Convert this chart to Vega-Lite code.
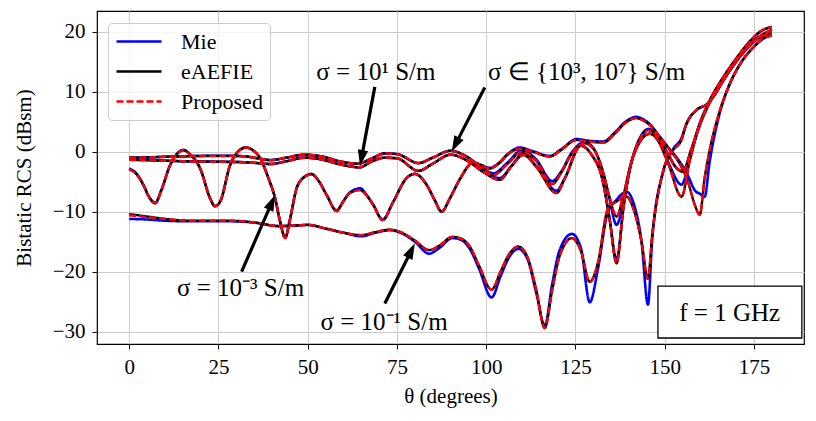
{
  "$schema": "https://vega.github.io/schema/vega-lite/v6.json",
  "width": 707,
  "height": 333,
  "autosize": {"type": "none"},
  "padding": {"left": 97, "top": 11, "right": 12, "bottom": 77},
  "background": "white",
  "config": {
    "font": "Liberation Serif",
    "view": {"stroke": "black", "strokeWidth": 1.2},
    "axis": {
      "labelFont": "Liberation Serif", "labelFontSize": 21, "labelColor": "black",
      "titleFont": "Liberation Serif", "titleFontSize": 21, "titleFontWeight": "normal", "titleColor": "black",
      "tickColor": "black", "tickSize": 5, "tickWidth": 1, "domain": false,
      "gridColor": "#cccccc", "gridWidth": 1, "labelPadding": 7
    },
    "legend": {
      "orient": "none", "legendX": 11, "legendY": 12,
      "symbolType": "M-1,0H3.5", "symbolSize": 400, "symbolStrokeWidth": 2.4,
      "labelFont": "Liberation Serif", "labelFontSize": 22, "labelColor": "black", "labelOffset": 43, "labelLimit": 0,
      "rowPadding": 7, "padding": 7,
      "strokeColor": "#cccccc", "fillColor": "rgba(255,255,255,0.8)", "cornerRadius": 4
    }
  },
  "datasets": {
    "rcs": [
      {"case": "A", "t": 0, "Mie": -11.2, "eAEFIE": -10.4, "Proposed": -10.6},
      {"case": "A", "t": 5, "Mie": -11.3, "eAEFIE": -10.8, "Proposed": -10.9},
      {"case": "A", "t": 10, "Mie": -11.5, "eAEFIE": -11.2, "Proposed": -11.2},
      {"case": "A", "t": 18, "Mie": -11.6, "eAEFIE": -11.5, "Proposed": -11.5},
      {"case": "A", "t": 28, "Mie": -11.6, "eAEFIE": -11.5, "Proposed": -11.5},
      {"case": "A", "t": 35, "Mie": -11.8, "eAEFIE": -11.8, "Proposed": -11.8},
      {"case": "A", "t": 42, "Mie": -12.4, "eAEFIE": -12.4, "Proposed": -12.4},
      {"case": "A", "t": 47, "Mie": -12.3, "eAEFIE": -12.3, "Proposed": -12.3},
      {"case": "A", "t": 50, "Mie": -12.2, "eAEFIE": -12.2, "Proposed": -12.2},
      {"case": "A", "t": 55, "Mie": -12.8, "eAEFIE": -12.8, "Proposed": -12.8},
      {"case": "A", "t": 60, "Mie": -13.5, "eAEFIE": -13.5, "Proposed": -13.5},
      {"case": "A", "t": 65, "Mie": -14.1, "eAEFIE": -13.9, "Proposed": -13.9},
      {"case": "A", "t": 69, "Mie": -13.5, "eAEFIE": -13.4, "Proposed": -13.4},
      {"case": "A", "t": 73, "Mie": -13.1, "eAEFIE": -13.0, "Proposed": -13.0},
      {"case": "A", "t": 76, "Mie": -13.5, "eAEFIE": -13.4, "Proposed": -13.4},
      {"case": "A", "t": 80, "Mie": -15.0, "eAEFIE": -14.8, "Proposed": -14.8},
      {"case": "A", "t": 84, "Mie": -17.0, "eAEFIE": -16.4, "Proposed": -16.4},
      {"case": "A", "t": 87, "Mie": -16.0, "eAEFIE": -15.6, "Proposed": -15.6},
      {"case": "A", "t": 90.5, "Mie": -14.4, "eAEFIE": -14.2, "Proposed": -14.2},
      {"case": "A", "t": 93, "Mie": -14.7, "eAEFIE": -14.5, "Proposed": -14.5},
      {"case": "A", "t": 95.4, "Mie": -16.2, "eAEFIE": -15.8, "Proposed": -15.8},
      {"case": "A", "t": 98, "Mie": -19.5, "eAEFIE": -19.0, "Proposed": -19.0},
      {"case": "A", "t": 101.5, "Mie": -24.3, "eAEFIE": -23.0, "Proposed": -23.0},
      {"case": "A", "t": 104, "Mie": -20.8, "eAEFIE": -20.0, "Proposed": -20.0},
      {"case": "A", "t": 106.5, "Mie": -17.5, "eAEFIE": -17.0, "Proposed": -17.0},
      {"case": "A", "t": 109, "Mie": -16.2, "eAEFIE": -15.8, "Proposed": -15.8},
      {"case": "A", "t": 111.5, "Mie": -17.8, "eAEFIE": -17.5, "Proposed": -17.5},
      {"case": "A", "t": 114, "Mie": -23.5, "eAEFIE": -23.0, "Proposed": -23.0},
      {"case": "A", "t": 116.4, "Mie": -29.0, "eAEFIE": -29.4, "Proposed": -29.4},
      {"case": "A", "t": 118.5, "Mie": -22.0, "eAEFIE": -23.0, "Proposed": -23.0},
      {"case": "A", "t": 120.5, "Mie": -16.5, "eAEFIE": -17.5, "Proposed": -17.5},
      {"case": "A", "t": 124, "Mie": -13.7, "eAEFIE": -14.4, "Proposed": -14.4},
      {"case": "A", "t": 126.5, "Mie": -16.0, "eAEFIE": -16.5, "Proposed": -16.5},
      {"case": "A", "t": 129, "Mie": -25.1, "eAEFIE": -21.7, "Proposed": -21.7},
      {"case": "A", "t": 131.3, "Mie": -19.5, "eAEFIE": -18.5, "Proposed": -18.5},
      {"case": "A", "t": 134, "Mie": -10.2, "eAEFIE": -9.7, "Proposed": -9.7},
      {"case": "A", "t": 136.5, "Mie": -8.0, "eAEFIE": -8.3, "Proposed": -8.3},
      {"case": "A", "t": 139.3, "Mie": -6.7, "eAEFIE": -7.5, "Proposed": -7.5},
      {"case": "A", "t": 141.5, "Mie": -9.0, "eAEFIE": -10.0, "Proposed": -10.0},
      {"case": "A", "t": 143.5, "Mie": -15.0, "eAEFIE": -15.0, "Proposed": -15.0},
      {"case": "A", "t": 145.3, "Mie": -25.5, "eAEFIE": -21.2, "Proposed": -21.2},
      {"case": "A", "t": 146.5, "Mie": -14.5, "eAEFIE": -13.9, "Proposed": -13.9},
      {"case": "A", "t": 149.5, "Mie": -3.5, "eAEFIE": -3.3, "Proposed": -3.3},
      {"case": "A", "t": 152.3, "Mie": 0.4, "eAEFIE": 0.2, "Proposed": 0.2},
      {"case": "A", "t": 154.7, "Mie": 2.3, "eAEFIE": 2.0, "Proposed": 2.0},
      {"case": "A", "t": 156, "Mie": 4.5, "eAEFIE": 4.5, "Proposed": 4.5},
      {"case": "A", "t": 159, "Mie": 7.0, "eAEFIE": 7.0, "Proposed": 7.0},
      {"case": "A", "t": 162, "Mie": 8.0, "eAEFIE": 8.0, "Proposed": 8.0},
      {"case": "A", "t": 164, "Mie": 9.5, "eAEFIE": 9.5, "Proposed": 9.5},
      {"case": "A", "t": 167, "Mie": 12.5, "eAEFIE": 12.5, "Proposed": 12.5},
      {"case": "A", "t": 170, "Mie": 15.1, "eAEFIE": 15.1, "Proposed": 15.1},
      {"case": "A", "t": 175, "Mie": 18.5, "eAEFIE": 18.5, "Proposed": 18.5},
      {"case": "A", "t": 180, "Mie": 20.3, "eAEFIE": 20.3, "Proposed": 20.3},

      {"case": "B", "t": 0, "Mie": -1.35, "eAEFIE": -1.35, "Proposed": -1.35},
      {"case": "B", "t": 5, "Mie": -1.4, "eAEFIE": -1.4, "Proposed": -1.4},
      {"case": "B", "t": 10, "Mie": -1.5, "eAEFIE": -1.5, "Proposed": -1.5},
      {"case": "B", "t": 16, "Mie": -1.6, "eAEFIE": -1.6, "Proposed": -1.6},
      {"case": "B", "t": 22, "Mie": -1.65, "eAEFIE": -1.65, "Proposed": -1.65},
      {"case": "B", "t": 28, "Mie": -1.7, "eAEFIE": -1.7, "Proposed": -1.7},
      {"case": "B", "t": 32, "Mie": -1.75, "eAEFIE": -1.75, "Proposed": -1.75},
      {"case": "B", "t": 36, "Mie": -1.9, "eAEFIE": -1.9, "Proposed": -1.9},
      {"case": "B", "t": 39.5, "Mie": -2.05, "eAEFIE": -2.05, "Proposed": -2.05},
      {"case": "B", "t": 44, "Mie": -1.6, "eAEFIE": -1.6, "Proposed": -1.6},
      {"case": "B", "t": 49, "Mie": -1.0, "eAEFIE": -1.0, "Proposed": -1.0},
      {"case": "B", "t": 54, "Mie": -1.3, "eAEFIE": -1.3, "Proposed": -1.3},
      {"case": "B", "t": 59, "Mie": -2.1, "eAEFIE": -2.1, "Proposed": -2.1},
      {"case": "B", "t": 64.5, "Mie": -2.6, "eAEFIE": -2.6, "Proposed": -2.6},
      {"case": "B", "t": 68, "Mie": -1.6, "eAEFIE": -1.6, "Proposed": -1.6},
      {"case": "B", "t": 71.5, "Mie": -1.0, "eAEFIE": -1.0, "Proposed": -1.0},
      {"case": "B", "t": 75, "Mie": -1.1, "eAEFIE": -1.1, "Proposed": -1.1},
      {"case": "B", "t": 81, "Mie": -3.2, "eAEFIE": -3.2, "Proposed": -3.2},
      {"case": "B", "t": 85, "Mie": -2.0, "eAEFIE": -2.0, "Proposed": -2.0},
      {"case": "B", "t": 90, "Mie": -0.5, "eAEFIE": -0.5, "Proposed": -0.5},
      {"case": "B", "t": 95, "Mie": -1.6, "eAEFIE": -1.6, "Proposed": -1.6},
      {"case": "B", "t": 99, "Mie": -3.3, "eAEFIE": -3.3, "Proposed": -3.3},
      {"case": "B", "t": 103.8, "Mie": -4.4, "eAEFIE": -4.7, "Proposed": -4.7},
      {"case": "B", "t": 107, "Mie": -2.4, "eAEFIE": -2.5, "Proposed": -2.5},
      {"case": "B", "t": 110.4, "Mie": -0.3, "eAEFIE": -0.55, "Proposed": -0.55},
      {"case": "B", "t": 114, "Mie": -2.4, "eAEFIE": -2.5, "Proposed": -2.5},
      {"case": "B", "t": 119.7, "Mie": -6.5, "eAEFIE": -6.9, "Proposed": -6.9},
      {"case": "B", "t": 122, "Mie": -4.4, "eAEFIE": -4.5, "Proposed": -4.5},
      {"case": "B", "t": 126.5, "Mie": 1.0, "eAEFIE": 1.0, "Proposed": 1.0},
      {"case": "B", "t": 129.5, "Mie": -0.5, "eAEFIE": -0.5, "Proposed": -0.5},
      {"case": "B", "t": 132.5, "Mie": -4.5, "eAEFIE": -4.5, "Proposed": -4.5},
      {"case": "B", "t": 134.5, "Mie": -11.0, "eAEFIE": -11.0, "Proposed": -11.0},
      {"case": "B", "t": 136.5, "Mie": -18.0, "eAEFIE": -18.6, "Proposed": -18.6},
      {"case": "B", "t": 138.5, "Mie": -9.0, "eAEFIE": -9.0, "Proposed": -9.0},
      {"case": "B", "t": 140, "Mie": -3.5, "eAEFIE": -3.5, "Proposed": -3.5},
      {"case": "B", "t": 142, "Mie": 0.5, "eAEFIE": 0.5, "Proposed": 0.5},
      {"case": "B", "t": 145.8, "Mie": 3.0, "eAEFIE": 3.0, "Proposed": 3.0},
      {"case": "B", "t": 148, "Mie": 2.0, "eAEFIE": 2.0, "Proposed": 2.0},
      {"case": "B", "t": 151, "Mie": -1.8, "eAEFIE": -2.0, "Proposed": -2.0},
      {"case": "B", "t": 154.7, "Mie": -5.5, "eAEFIE": -7.5, "Proposed": -7.5},
      {"case": "B", "t": 157, "Mie": -1.2, "eAEFIE": -1.5, "Proposed": -1.5},
      {"case": "B", "t": 159, "Mie": 3.0, "eAEFIE": 3.0, "Proposed": 3.0},
      {"case": "B", "t": 162, "Mie": 7.5, "eAEFIE": 7.5, "Proposed": 7.5},
      {"case": "B", "t": 166, "Mie": 11.5, "eAEFIE": 11.5, "Proposed": 11.5},
      {"case": "B", "t": 170, "Mie": 15.0, "eAEFIE": 15.0, "Proposed": 15.0},
      {"case": "B", "t": 174, "Mie": 17.8, "eAEFIE": 17.8, "Proposed": 17.8},
      {"case": "B", "t": 177, "Mie": 19.2, "eAEFIE": 19.2, "Proposed": 19.2},
      {"case": "B", "t": 180, "Mie": 19.7, "eAEFIE": 19.7, "Proposed": 19.7},

      {"case": "C", "t": 0, "Mie": -1.0, "eAEFIE": -1.0, "Proposed": -1.0},
      {"case": "C", "t": 5, "Mie": -0.95, "eAEFIE": -0.95, "Proposed": -0.95},
      {"case": "C", "t": 10, "Mie": -0.85, "eAEFIE": -0.85, "Proposed": -0.85},
      {"case": "C", "t": 16, "Mie": -0.75, "eAEFIE": -0.75, "Proposed": -0.75},
      {"case": "C", "t": 22, "Mie": -0.7, "eAEFIE": -0.7, "Proposed": -0.7},
      {"case": "C", "t": 28, "Mie": -0.7, "eAEFIE": -0.7, "Proposed": -0.7},
      {"case": "C", "t": 32, "Mie": -0.75, "eAEFIE": -0.75, "Proposed": -0.75},
      {"case": "C", "t": 36, "Mie": -1.1, "eAEFIE": -1.1, "Proposed": -1.1},
      {"case": "C", "t": 39.5, "Mie": -1.4, "eAEFIE": -1.4, "Proposed": -1.4},
      {"case": "C", "t": 44, "Mie": -1.0, "eAEFIE": -1.0, "Proposed": -1.0},
      {"case": "C", "t": 49, "Mie": -0.5, "eAEFIE": -0.5, "Proposed": -0.5},
      {"case": "C", "t": 54, "Mie": -0.8, "eAEFIE": -0.8, "Proposed": -0.8},
      {"case": "C", "t": 59, "Mie": -1.6, "eAEFIE": -1.6, "Proposed": -1.6},
      {"case": "C", "t": 64, "Mie": -2.0, "eAEFIE": -2.0, "Proposed": -2.0},
      {"case": "C", "t": 68, "Mie": -1.1, "eAEFIE": -1.1, "Proposed": -1.1},
      {"case": "C", "t": 71.5, "Mie": -0.3, "eAEFIE": -0.3, "Proposed": -0.3},
      {"case": "C", "t": 75, "Mie": -0.4, "eAEFIE": -0.4, "Proposed": -0.4},
      {"case": "C", "t": 81, "Mie": -1.9, "eAEFIE": -1.9, "Proposed": -1.9},
      {"case": "C", "t": 85, "Mie": -1.0, "eAEFIE": -1.0, "Proposed": -1.0},
      {"case": "C", "t": 90, "Mie": 0.15, "eAEFIE": 0.15, "Proposed": 0.15},
      {"case": "C", "t": 95, "Mie": -1.0, "eAEFIE": -1.0, "Proposed": -1.0},
      {"case": "C", "t": 98.5, "Mie": -2.5, "eAEFIE": -2.6, "Proposed": -2.6},
      {"case": "C", "t": 102, "Mie": -3.6, "eAEFIE": -3.9, "Proposed": -3.9},
      {"case": "C", "t": 106, "Mie": -1.8, "eAEFIE": -2.0, "Proposed": -2.0},
      {"case": "C", "t": 110, "Mie": 0.3, "eAEFIE": 0.0, "Proposed": 0.0},
      {"case": "C", "t": 114, "Mie": -1.3, "eAEFIE": -1.5, "Proposed": -1.5},
      {"case": "C", "t": 118.5, "Mie": -4.9, "eAEFIE": -5.4, "Proposed": -5.4},
      {"case": "C", "t": 121, "Mie": -3.3, "eAEFIE": -3.5, "Proposed": -3.5},
      {"case": "C", "t": 124, "Mie": -0.1, "eAEFIE": -0.3, "Proposed": -0.3},
      {"case": "C", "t": 127.5, "Mie": 1.6, "eAEFIE": 1.4, "Proposed": 1.4},
      {"case": "C", "t": 130, "Mie": 0.6, "eAEFIE": 0.5, "Proposed": 0.5},
      {"case": "C", "t": 132.8, "Mie": -3.6, "eAEFIE": -3.6, "Proposed": -3.6},
      {"case": "C", "t": 134.5, "Mie": -7.8, "eAEFIE": -7.5, "Proposed": -7.5},
      {"case": "C", "t": 136.5, "Mie": -12.2, "eAEFIE": -10.8, "Proposed": -10.8},
      {"case": "C", "t": 138.5, "Mie": -8.0, "eAEFIE": -7.0, "Proposed": -7.0},
      {"case": "C", "t": 140.5, "Mie": -2.2, "eAEFIE": -2.0, "Proposed": -2.0},
      {"case": "C", "t": 142.5, "Mie": 1.6, "eAEFIE": 1.5, "Proposed": 1.5},
      {"case": "C", "t": 145.5, "Mie": 3.8, "eAEFIE": 3.6, "Proposed": 3.6},
      {"case": "C", "t": 148, "Mie": 2.6, "eAEFIE": 2.5, "Proposed": 2.5},
      {"case": "C", "t": 151, "Mie": -0.5, "eAEFIE": -0.5, "Proposed": -0.5},
      {"case": "C", "t": 153, "Mie": -2.5, "eAEFIE": -2.5, "Proposed": -2.5},
      {"case": "C", "t": 155, "Mie": -3.3, "eAEFIE": -3.3, "Proposed": -3.3},
      {"case": "C", "t": 157.5, "Mie": 0.5, "eAEFIE": 0.5, "Proposed": 0.5},
      {"case": "C", "t": 160, "Mie": 5.0, "eAEFIE": 5.0, "Proposed": 5.0},
      {"case": "C", "t": 163, "Mie": 9.0, "eAEFIE": 9.0, "Proposed": 9.0},
      {"case": "C", "t": 166.5, "Mie": 12.5, "eAEFIE": 12.5, "Proposed": 12.5},
      {"case": "C", "t": 170, "Mie": 15.5, "eAEFIE": 15.5, "Proposed": 15.5},
      {"case": "C", "t": 174, "Mie": 18.5, "eAEFIE": 18.5, "Proposed": 18.5},
      {"case": "C", "t": 177, "Mie": 20.1, "eAEFIE": 20.1, "Proposed": 20.1},
      {"case": "C", "t": 180, "Mie": 20.8, "eAEFIE": 20.8, "Proposed": 20.8},

      {"case": "D", "t": 0, "Mie": -2.8, "eAEFIE": -2.95, "Proposed": -2.95},
      {"case": "D", "t": 2, "Mie": -3.6, "eAEFIE": -3.7, "Proposed": -3.7},
      {"case": "D", "t": 4, "Mie": -5.5, "eAEFIE": -5.6, "Proposed": -5.6},
      {"case": "D", "t": 5.5, "Mie": -7.4, "eAEFIE": -7.5, "Proposed": -7.5},
      {"case": "D", "t": 7.3, "Mie": -8.5, "eAEFIE": -8.6, "Proposed": -8.6},
      {"case": "D", "t": 9, "Mie": -6.4, "eAEFIE": -6.5, "Proposed": -6.5},
      {"case": "D", "t": 11.5, "Mie": -2.2, "eAEFIE": -2.2, "Proposed": -2.2},
      {"case": "D", "t": 13.5, "Mie": -0.3, "eAEFIE": -0.3, "Proposed": -0.3},
      {"case": "D", "t": 15.2, "Mie": 0.3, "eAEFIE": 0.25, "Proposed": 0.25},
      {"case": "D", "t": 17, "Mie": -0.4, "eAEFIE": -0.4, "Proposed": -0.4},
      {"case": "D", "t": 19.9, "Mie": -2.8, "eAEFIE": -2.8, "Proposed": -2.8},
      {"case": "D", "t": 22.7, "Mie": -7.8, "eAEFIE": -7.8, "Proposed": -7.8},
      {"case": "D", "t": 24, "Mie": -9.1, "eAEFIE": -9.06, "Proposed": -9.06},
      {"case": "D", "t": 25.5, "Mie": -8.3, "eAEFIE": -8.3, "Proposed": -8.3},
      {"case": "D", "t": 28.3, "Mie": -2.2, "eAEFIE": -2.2, "Proposed": -2.2},
      {"case": "D", "t": 30.5, "Mie": 0.0, "eAEFIE": 0.0, "Proposed": 0.0},
      {"case": "D", "t": 32.7, "Mie": 0.7, "eAEFIE": 0.7, "Proposed": 0.7},
      {"case": "D", "t": 34.5, "Mie": 0.3, "eAEFIE": 0.3, "Proposed": 0.3},
      {"case": "D", "t": 36.7, "Mie": -1.1, "eAEFIE": -1.1, "Proposed": -1.1},
      {"case": "D", "t": 39, "Mie": -4.4, "eAEFIE": -4.4, "Proposed": -4.4},
      {"case": "D", "t": 40.9, "Mie": -7.8, "eAEFIE": -7.8, "Proposed": -7.8},
      {"case": "D", "t": 42.3, "Mie": -11.7, "eAEFIE": -11.7, "Proposed": -11.7},
      {"case": "D", "t": 43.7, "Mie": -14.3, "eAEFIE": -14.4, "Proposed": -14.4},
      {"case": "D", "t": 45, "Mie": -11.4, "eAEFIE": -11.4, "Proposed": -11.4},
      {"case": "D", "t": 46.9, "Mie": -6.1, "eAEFIE": -6.1, "Proposed": -6.1},
      {"case": "D", "t": 48.5, "Mie": -4.5, "eAEFIE": -4.5, "Proposed": -4.5},
      {"case": "D", "t": 51.1, "Mie": -3.7, "eAEFIE": -3.77, "Proposed": -3.77},
      {"case": "D", "t": 53, "Mie": -4.8, "eAEFIE": -4.8, "Proposed": -4.8},
      {"case": "D", "t": 55.3, "Mie": -7.2, "eAEFIE": -7.2, "Proposed": -7.2},
      {"case": "D", "t": 58.1, "Mie": -9.8, "eAEFIE": -9.9, "Proposed": -9.9},
      {"case": "D", "t": 60, "Mie": -8.2, "eAEFIE": -8.3, "Proposed": -8.3},
      {"case": "D", "t": 61.8, "Mie": -6.8, "eAEFIE": -6.9, "Proposed": -6.9},
      {"case": "D", "t": 64.7, "Mie": -6.1, "eAEFIE": -6.4, "Proposed": -6.4},
      {"case": "D", "t": 66.5, "Mie": -7.2, "eAEFIE": -7.3, "Proposed": -7.3},
      {"case": "D", "t": 68.4, "Mie": -8.9, "eAEFIE": -8.9, "Proposed": -8.9},
      {"case": "D", "t": 71, "Mie": -11.3, "eAEFIE": -11.4, "Proposed": -11.4},
      {"case": "D", "t": 74, "Mie": -8.3, "eAEFIE": -8.3, "Proposed": -8.3},
      {"case": "D", "t": 77.7, "Mie": -4.4, "eAEFIE": -4.4, "Proposed": -4.4},
      {"case": "D", "t": 80, "Mie": -3.7, "eAEFIE": -3.7, "Proposed": -3.7},
      {"case": "D", "t": 83.3, "Mie": -5.5, "eAEFIE": -5.5, "Proposed": -5.5},
      {"case": "D", "t": 85.6, "Mie": -8.1, "eAEFIE": -8.1, "Proposed": -8.1},
      {"case": "D", "t": 87.5, "Mie": -10.0, "eAEFIE": -10.0, "Proposed": -10.0},
      {"case": "D", "t": 89.8, "Mie": -7.8, "eAEFIE": -7.8, "Proposed": -7.8},
      {"case": "D", "t": 92.6, "Mie": -4.6, "eAEFIE": -4.6, "Proposed": -4.6},
      {"case": "D", "t": 96.4, "Mie": -1.8, "eAEFIE": -1.8, "Proposed": -1.8},
      {"case": "D", "t": 98.5, "Mie": -2.2, "eAEFIE": -2.2, "Proposed": -2.2},
      {"case": "D", "t": 101, "Mie": -2.7, "eAEFIE": -2.8, "Proposed": -2.8},
      {"case": "D", "t": 103.5, "Mie": -1.9, "eAEFIE": -2.0, "Proposed": -2.0},
      {"case": "D", "t": 106, "Mie": -0.4, "eAEFIE": -0.5, "Proposed": -0.5},
      {"case": "D", "t": 109.4, "Mie": 0.7, "eAEFIE": 0.5, "Proposed": 0.5},
      {"case": "D", "t": 113, "Mie": 0.1, "eAEFIE": 0.0, "Proposed": 0.0},
      {"case": "D", "t": 117.8, "Mie": -0.7, "eAEFIE": -0.8, "Proposed": -0.8},
      {"case": "D", "t": 121, "Mie": 0.4, "eAEFIE": 0.3, "Proposed": 0.3},
      {"case": "D", "t": 125.3, "Mie": 2.1, "eAEFIE": 1.95, "Proposed": 1.95},
      {"case": "D", "t": 129, "Mie": 1.8, "eAEFIE": 1.7, "Proposed": 1.7},
      {"case": "D", "t": 132.8, "Mie": 1.7, "eAEFIE": 1.5, "Proposed": 1.5},
      {"case": "D", "t": 136, "Mie": 3.2, "eAEFIE": 3.0, "Proposed": 3.0},
      {"case": "D", "t": 139, "Mie": 5.0, "eAEFIE": 4.8, "Proposed": 4.8},
      {"case": "D", "t": 142, "Mie": 5.8, "eAEFIE": 5.6, "Proposed": 5.6},
      {"case": "D", "t": 144, "Mie": 5.4, "eAEFIE": 5.2, "Proposed": 5.2},
      {"case": "D", "t": 145.8, "Mie": 4.6, "eAEFIE": 4.45, "Proposed": 4.45},
      {"case": "D", "t": 148.5, "Mie": 2.6, "eAEFIE": 2.5, "Proposed": 2.5},
      {"case": "D", "t": 151.4, "Mie": 0.4, "eAEFIE": 0.3, "Proposed": 0.3},
      {"case": "D", "t": 154, "Mie": -1.5, "eAEFIE": -1.8, "Proposed": -1.8},
      {"case": "D", "t": 156.5, "Mie": -4.0, "eAEFIE": -5.0, "Proposed": -5.0},
      {"case": "D", "t": 158.5, "Mie": -6.5, "eAEFIE": -9.0, "Proposed": -9.0},
      {"case": "D", "t": 159.8, "Mie": -7.0, "eAEFIE": -10.5, "Proposed": -10.5},
      {"case": "D", "t": 161.2, "Mie": -7.5, "eAEFIE": -4.3, "Proposed": -4.3},
      {"case": "D", "t": 162.5, "Mie": -2.0, "eAEFIE": 0.0, "Proposed": 0.0},
      {"case": "D", "t": 165, "Mie": 5.5, "eAEFIE": 6.0, "Proposed": 6.0},
      {"case": "D", "t": 168, "Mie": 11.0, "eAEFIE": 11.0, "Proposed": 11.0},
      {"case": "D", "t": 171, "Mie": 14.5, "eAEFIE": 14.5, "Proposed": 14.5},
      {"case": "D", "t": 175, "Mie": 17.5, "eAEFIE": 17.5, "Proposed": 17.5},
      {"case": "D", "t": 178, "Mie": 19.0, "eAEFIE": 19.0, "Proposed": 19.0},
      {"case": "D", "t": 180, "Mie": 19.4, "eAEFIE": 19.4, "Proposed": 19.4}
    ]
  },
  "encoding": {
    "x": {
      "field": "t", "type": "quantitative",
      "scale": {"domain": [-9, 189], "nice": false, "zero": false},
      "axis": {"values": [0, 25, 50, 75, 100, 125, 150, 175], "title": "θ (degrees)", "titlePadding": 8, "labelAngle": 0}
    },
    "y": {
      "field": "rcs", "type": "quantitative",
      "scale": {"domain": [-32.05, 23.45], "nice": false, "zero": false},
      "axis": {"values": [-30, -20, -10, 0, 10, 20], "title": "Bistatic RCS (dBsm)", "titlePadding": 18}
    }
  },
  "layer": [
    {
      "data": {"name": "rcs"},
      "transform": [{"fold": ["Mie", "eAEFIE", "Proposed"], "as": ["method", "rcs"]}, {"filter": "datum.method === 'Mie'"}],
      "mark": {"type": "line", "strokeWidth": 2.6, "clip": true, "interpolate": "monotone"},
      "encoding": {
        "detail": {"field": "case", "type": "nominal"},
        "color": {"field": "method", "type": "nominal", "scale": {"domain": ["Mie", "eAEFIE", "Proposed"], "range": ["#0000ff", "#000000", "#ff0000"]}, "legend": {"title": null}},
        "strokeDash": {"field": "method", "type": "nominal", "scale": {"domain": ["Mie", "eAEFIE", "Proposed"], "range": [[1, 0], [1, 0], [7, 3]]}, "legend": {"title": null}}
      }
    },
    {
      "data": {"name": "rcs"},
      "transform": [{"fold": ["Mie", "eAEFIE", "Proposed"], "as": ["method", "rcs"]}, {"filter": "datum.method === 'eAEFIE'"}],
      "mark": {"type": "line", "strokeWidth": 2.4, "clip": true, "interpolate": "monotone"},
      "encoding": {
        "detail": {"field": "case", "type": "nominal"},
        "color": {"field": "method", "type": "nominal", "legend": {"title": null}},
        "strokeDash": {"field": "method", "type": "nominal", "legend": {"title": null}}
      }
    },
    {
      "data": {"name": "rcs"},
      "transform": [{"fold": ["Mie", "eAEFIE", "Proposed"], "as": ["method", "rcs"]}, {"filter": "datum.method === 'Proposed'"}],
      "mark": {"type": "line", "strokeWidth": 2.4, "clip": true, "interpolate": "monotone"},
      "encoding": {
        "detail": {"field": "case", "type": "nominal"},
        "color": {"field": "method", "type": "nominal", "legend": {"title": null}},
        "strokeDash": {"field": "method", "type": "nominal", "legend": {"title": null}}
      }
    },
    {
      "data": {"values": [
        {"t": 68.8, "rcs": 10.8, "t2": 65.07, "rcs2": -1.07},
        {"t": 99.6, "rcs": 10.7, "t2": 91.35, "rcs2": 1.18},
        {"t": 31.5, "rcs": -20.0, "t2": 39.97, "rcs2": -8.43},
        {"t": 71.6, "rcs": -25.3, "t2": 79.04, "rcs2": -16.47}
      ]},
      "mark": {"type": "rule", "color": "black", "strokeWidth": 3.2},
      "encoding": {"x2": {"field": "t2"}, "y2": {"field": "rcs2"}}
    },
    {
      "data": {"values": [{"t": 65.07, "rcs": -1.07}]},
      "mark": {"type": "point", "shape": "M0,-1L0.65,1L-0.65,1Z", "size": 256, "filled": true, "color": "black", "opacity": 1, "angle": 190.8}
    },
    {
      "data": {"values": [{"t": 91.35, "rcs": 1.18}]},
      "mark": {"type": "point", "shape": "M0,-1L0.65,1L-0.65,1Z", "size": 256, "filled": true, "color": "black", "opacity": 1, "angle": 207.3}
    },
    {
      "data": {"values": [{"t": 39.97, "rcs": -8.43}]},
      "mark": {"type": "point", "shape": "M0,-1L0.65,1L-0.65,1Z", "size": 256, "filled": true, "color": "black", "opacity": 1, "angle": 23.5}
    },
    {
      "data": {"values": [{"t": 79.04, "rcs": -16.47}]},
      "mark": {"type": "point", "shape": "M0,-1L0.65,1L-0.65,1Z", "size": 256, "filled": true, "color": "black", "opacity": 1, "angle": 26.6}
    },
    {
      "data": {"values": [
        {"label": "σ = 10¹ S/m", "t": 69.1, "rcs": 13.3},
        {"label": "σ ∈ {10³, 10⁷} S/m", "t": 128.1, "rcs": 13.3},
        {"label": "σ = 10⁻³ S/m", "t": 31.2, "rcs": -22.7},
        {"label": "σ = 10⁻¹ S/m", "t": 71.4, "rcs": -28.4}
      ]},
      "mark": {"type": "text", "fontSize": 25, "font": "Liberation Serif", "color": "black", "align": "center", "baseline": "middle"},
      "encoding": {"text": {"field": "label"}}
    },
    {
      "data": {"values": [{"t": 148.1, "rcs": -22.4, "t2": 188.4, "rcs2": -31.05}]},
      "mark": {"type": "rect", "fill": "white", "stroke": "black", "strokeWidth": 1.3},
      "encoding": {"x2": {"field": "t2"}, "y2": {"field": "rcs2"}}
    },
    {
      "data": {"values": [{"label": "f = 1 GHz", "t": 168.2, "rcs": -26.9}]},
      "mark": {"type": "text", "fontSize": 25, "font": "Liberation Serif", "color": "black", "align": "center", "baseline": "middle"},
      "encoding": {"text": {"field": "label"}}
    }
  ]
}
